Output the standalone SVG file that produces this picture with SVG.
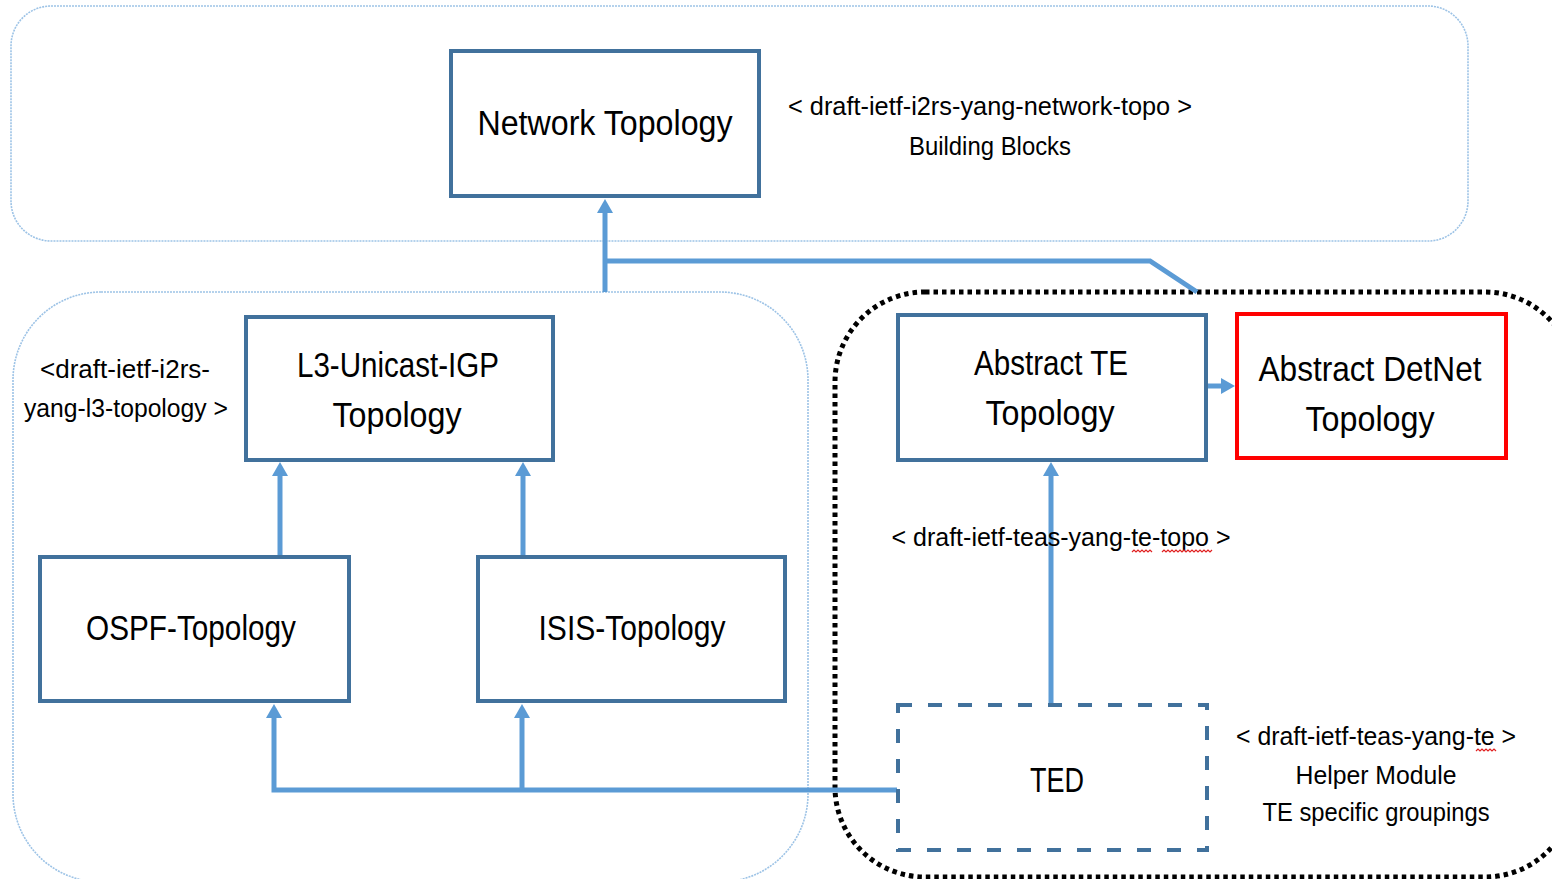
<svg xmlns="http://www.w3.org/2000/svg" width="1552" height="879" viewBox="0 0 1552 879">
<style>
.cont{fill:none;stroke:#9dc3e6;stroke-width:1.6;stroke-dasharray:2 1}
.dotc{fill:none;stroke:#000;stroke-width:5;stroke-dasharray:4.5 4}
.box{fill:#fff;stroke:#41719c;stroke-width:4}
.red{fill:#fff;stroke:#ff0000;stroke-width:4}
.ted{fill:none;stroke:#41719c;stroke-width:4;stroke-dasharray:14 16}
.conn{fill:none;stroke:#5b9bd5;stroke-width:5}
.arr{marker-end:url(#ah)}
.bt{font-family:"Liberation Sans",Arial,sans-serif;font-size:35px;fill:#000;text-anchor:middle}
.lt{font-family:"Liberation Sans",Arial,sans-serif;font-size:26px;fill:#000;text-anchor:middle}
.sq{fill:none;stroke:#e02020;stroke-width:1.2}
</style>
<defs>
<marker id="ah" viewBox="0 0 14 16" refX="0" refY="8" markerWidth="14" markerHeight="16" markerUnits="userSpaceOnUse" orient="auto">
<path d="M0,0 L14,8 L0,16 z" fill="#5b9bd5"/>
</marker>
</defs>
<g id="containers">
<rect class="cont" x="11" y="6" width="1457" height="235" rx="40"/>
<rect class="cont" x="13" y="292" width="795" height="590" rx="88"/>
<rect class="dotc" x="835" y="292" width="740" height="585" rx="90"/>
</g>
<g id="connectors">
<path class="conn arr" d="M605,292 V213"/>
<path class="conn" d="M605,261 H1150 L1197,292"/>
<path class="conn arr" d="M280,556 V476"/>
<path class="conn arr" d="M523,556 V476"/>
<path class="conn arr" d="M897,790 H274 V718"/>
<path class="conn arr" d="M522,790 V718"/>
<path class="conn arr" d="M1051,704 V476"/>
<path class="conn arr" d="M1208,386 H1221"/>
</g>
<g id="network-topology">
<rect class="box" x="451" y="51" width="308" height="145"/>
<text class="bt" x="605" y="135" textLength="255" lengthAdjust="spacingAndGlyphs">Network Topology</text>
</g>
<g id="label-network-topo">
<text class="lt" x="990" y="115" textLength="404" lengthAdjust="spacingAndGlyphs">&lt; draft-ietf-i2rs-yang-network-topo &gt;</text>
<text class="lt" x="990" y="155" textLength="162" lengthAdjust="spacingAndGlyphs">Building Blocks</text>
</g>
<g id="l3-unicast-igp">
<rect class="box" x="246" y="317" width="307" height="143"/>
<text class="bt" x="398" y="377" textLength="202" lengthAdjust="spacingAndGlyphs">L3-Unicast-IGP</text>
<text class="bt" x="397" y="427" textLength="129" lengthAdjust="spacingAndGlyphs">Topology</text>
</g>
<g id="label-l3">
<text class="lt" x="125" y="378" textLength="170" lengthAdjust="spacingAndGlyphs">&lt;draft-ietf-i2rs-</text>
<text class="lt" x="126" y="417" textLength="204" lengthAdjust="spacingAndGlyphs">yang-l3-topology &gt;</text>
</g>
<g id="ospf-topology">
<rect class="box" x="40" y="557" width="309" height="144"/>
<text class="bt" x="191" y="640" textLength="210" lengthAdjust="spacingAndGlyphs">OSPF-Topology</text>
</g>
<g id="isis-topology">
<rect class="box" x="478" y="557" width="307" height="144"/>
<text class="bt" x="632" y="640" textLength="187" lengthAdjust="spacingAndGlyphs">ISIS-Topology</text>
</g>
<g id="abstract-te">
<rect class="box" x="898" y="315" width="308" height="145"/>
<text class="bt" x="1051" y="375" textLength="154" lengthAdjust="spacingAndGlyphs">Abstract TE</text>
<text class="bt" x="1050" y="425" textLength="129" lengthAdjust="spacingAndGlyphs">Topology</text>
</g>
<g id="abstract-detnet">
<rect class="red" x="1237" y="314" width="269" height="144"/>
<text class="bt" x="1370" y="381" textLength="223" lengthAdjust="spacingAndGlyphs">Abstract DetNet</text>
<text class="bt" x="1370" y="431" textLength="129" lengthAdjust="spacingAndGlyphs">Topology</text>
</g>
<g id="label-te-topo">
<text class="lt" x="1061" y="546" textLength="339" lengthAdjust="spacingAndGlyphs">&lt; draft-ietf-teas-yang-te-topo &gt;</text>
<path class="sq" d="M1132,552 l2,-2 l2,2 l2,-2 l2,2 l2,-2 l2,2 l2,-2 l2,2 l2,-2 l2,2"/>
<path class="sq" d="M1162,552 l2,-2 l2,2 l2,-2 l2,2 l2,-2 l2,2 l2,-2 l2,2 l2,-2 l2,2 l2,-2 l2,2 l2,-2 l2,2 l2,-2 l2,2 l2,-2 l2,2 l2,-2 l2,2 l2,-2 l2,2 l2,-2 l2,2 l2,-2"/>
</g>
<g id="ted">
<rect fill="#fff" x="898" y="705" width="309" height="145"/>
<rect class="ted" x="898" y="705" width="309" height="145"/>
<text class="bt" x="1057" y="792" textLength="54" lengthAdjust="spacingAndGlyphs">TED</text>
</g>
<g id="label-te">
<text class="lt" x="1376" y="745" textLength="280" lengthAdjust="spacingAndGlyphs">&lt; draft-ietf-teas-yang-te &gt;</text>
<path class="sq" d="M1476,751 l2,-2 l2,2 l2,-2 l2,2 l2,-2 l2,2 l2,-2 l2,2 l2,-2 l2,2"/>
<text class="lt" x="1376" y="784" textLength="161" lengthAdjust="spacingAndGlyphs">Helper Module</text>
<text class="lt" x="1376" y="821" textLength="227" lengthAdjust="spacingAndGlyphs">TE specific groupings</text>
</g>
</svg>
